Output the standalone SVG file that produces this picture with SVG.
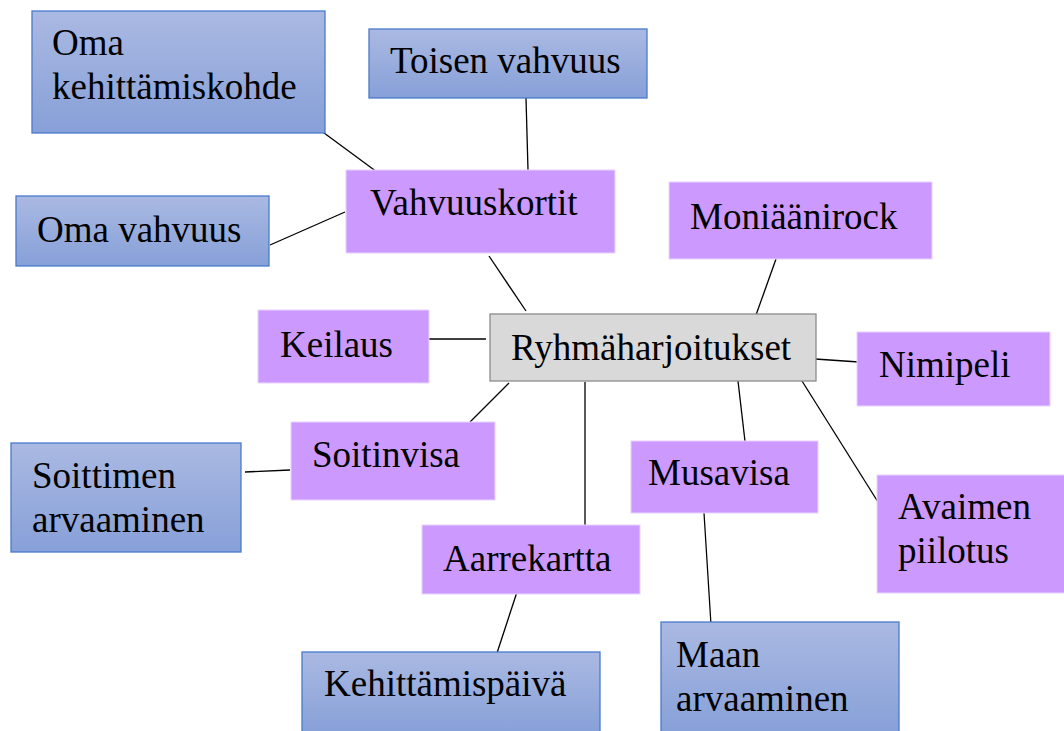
<svg xmlns="http://www.w3.org/2000/svg" width="1064" height="731" viewBox="0 0 1064 731">
<defs>
<linearGradient id="bg" x1="0" y1="0" x2="0" y2="1">
<stop offset="0" stop-color="#aab9e2"/>
<stop offset="1" stop-color="#87a0d8"/>
</linearGradient>
<style>
.blue{fill:url(#bg);stroke:#4a7acb;stroke-width:1.3}
.purple{fill:#cc99ff;stroke:#e8d4ff;stroke-width:1}
.center{fill:#d9d9d9;stroke:#8c8c8c;stroke-width:1.3}
text{font-family:"Liberation Serif","Times New Roman",serif;font-size:37px;fill:#000}
.conn line{stroke:#000;stroke-width:1.3}
</style>
</defs>
<rect width="1064" height="731" fill="#fff"/>
<g class="conn">
<line x1="320" y1="130" x2="377" y2="172"/>
<line x1="526" y1="98" x2="528" y2="170"/>
<line x1="270" y1="245" x2="345" y2="212"/>
<line x1="489" y1="256" x2="526" y2="311"/>
<line x1="429" y1="339" x2="486" y2="339"/>
<line x1="776" y1="259" x2="756" y2="315"/>
<line x1="815" y1="359" x2="859" y2="362"/>
<line x1="509" y1="383" x2="470" y2="422"/>
<line x1="245" y1="472" x2="290" y2="470"/>
<line x1="585" y1="382" x2="585" y2="527"/>
<line x1="517" y1="592" x2="497" y2="653"/>
<line x1="738" y1="381" x2="746" y2="450"/>
<line x1="704" y1="513" x2="711" y2="625"/>
<line x1="802" y1="381" x2="878" y2="502"/>
</g>
<g id="oma-kehittamiskohde"><rect class="blue" x="32" y="11" width="293" height="122"/><text x="52" y="55">Oma</text><text x="52" y="99">kehittämiskohde</text></g>
<g id="toisen-vahvuus"><rect class="blue" x="369" y="29" width="278" height="69"/><text x="390" y="73">Toisen vahvuus</text></g>
<g id="oma-vahvuus"><rect class="blue" x="16" y="196" width="253" height="70"/><text x="37" y="242">Oma vahvuus</text></g>
<g id="soittimen-arvaaminen"><rect class="blue" x="11" y="443" width="230" height="109"/><text x="32" y="488">Soittimen</text><text x="32" y="532">arvaaminen</text></g>
<g id="kehittamispaiva"><rect class="blue" x="302" y="652" width="298" height="82"/><text x="324" y="696">Kehittämispäivä</text></g>
<g id="maan-arvaaminen"><rect class="blue" x="661" y="622" width="238" height="112"/><text x="676" y="667">Maan</text><text x="676" y="711">arvaaminen</text></g>
<g id="vahvuuskortit"><rect class="purple" x="346" y="170" width="269" height="83"/><text x="370" y="215">Vahvuuskortit</text></g>
<g id="moniaanirock"><rect class="purple" x="669" y="182" width="263" height="77"/><text x="690" y="229">Moniäänirock</text></g>
<g id="keilaus"><rect class="purple" x="258" y="310" width="171" height="73"/><text x="280" y="357">Keilaus</text></g>
<g id="nimipeli"><rect class="purple" x="857" y="332" width="193" height="74"/><text x="879" y="377">Nimipeli</text></g>
<g id="soitinvisa"><rect class="purple" x="291" y="422" width="204" height="78"/><text x="312" y="467">Soitinvisa</text></g>
<g id="musavisa"><rect class="purple" x="631" y="441" width="187" height="72"/><text x="648" y="485">Musavisa</text></g>
<g id="aarrekartta"><rect class="purple" x="422" y="525" width="218" height="69"/><text x="443" y="571">Aarrekartta</text></g>
<g id="avaimen-piilotus"><rect class="purple" x="877" y="475" width="200" height="118"/><text x="898" y="519">Avaimen</text><text x="898" y="563">piilotus</text></g>
<g id="ryhmaharjoitukset"><rect class="center" x="490" y="314" width="326" height="67"/><text x="511" y="360">Ryhmäharjoitukset</text></g>
</svg>
